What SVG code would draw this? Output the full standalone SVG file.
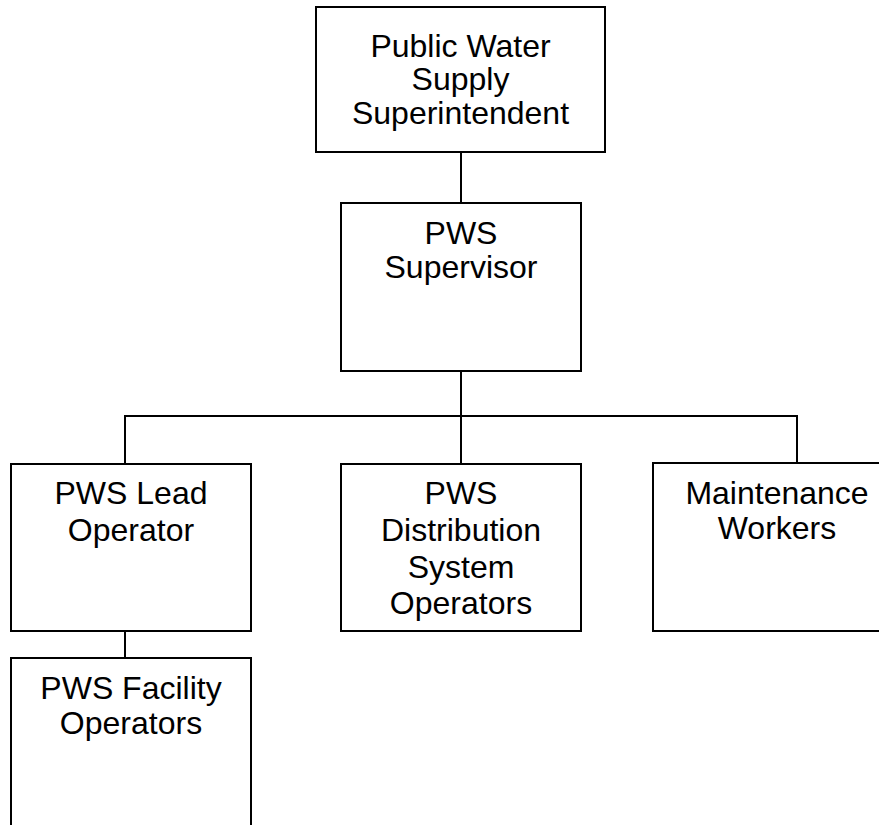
<svg xmlns="http://www.w3.org/2000/svg" width="879" height="825" viewBox="0 0 879 825">
  <style>
    .box { fill: #ffffff; stroke: #000000; stroke-width: 2; }
    .lbl { font-family: "Liberation Sans", Arial, sans-serif; font-size: 32px; fill: #000000; text-anchor: middle; }
    .wire { fill: none; stroke: #000000; stroke-width: 2; }
  </style>
  <rect width="879" height="825" fill="#ffffff"/>

  <g id="connectors">
    <line class="wire" x1="461" y1="152" x2="461" y2="203"/>
    <line class="wire" x1="461" y1="371" x2="461" y2="464"/>
    <polyline class="wire" points="125,464 125,416 797,416 797,463"/>
    <line class="wire" x1="125" y1="631" x2="125" y2="658"/>
  </g>

  <g id="superintendent">
    <rect class="box" x="316" y="7" width="289" height="145"/>
    <text class="lbl" x="460.5" y="57">Public Water</text>
    <text class="lbl" x="460.5" y="90">Supply</text>
    <text class="lbl" x="460.5" y="124">Superintendent</text>
  </g>

  <g id="supervisor">
    <rect class="box" x="341" y="203" width="240" height="168"/>
    <text class="lbl" x="461" y="244">PWS</text>
    <text class="lbl" x="461" y="278">Supervisor</text>
  </g>

  <g id="lead-operator">
    <rect class="box" x="11" y="464" width="240" height="167"/>
    <text class="lbl" x="131" y="504">PWS Lead</text>
    <text class="lbl" x="131" y="541">Operator</text>
  </g>

  <g id="distribution-operators">
    <rect class="box" x="341" y="464" width="240" height="167"/>
    <text class="lbl" x="461" y="504">PWS</text>
    <text class="lbl" x="461" y="541">Distribution</text>
    <text class="lbl" x="461" y="578">System</text>
    <text class="lbl" x="461" y="614">Operators</text>
  </g>

  <g id="maintenance-workers">
    <rect class="box" x="653" y="463" width="248" height="168"/>
    <text class="lbl" x="777" y="504">Maintenance</text>
    <text class="lbl" x="777" y="539">Workers</text>
  </g>

  <g id="facility-operators">
    <rect class="box" x="11" y="658" width="240" height="190"/>
    <text class="lbl" x="131" y="699">PWS Facility</text>
    <text class="lbl" x="131" y="734">Operators</text>
  </g>
</svg>
